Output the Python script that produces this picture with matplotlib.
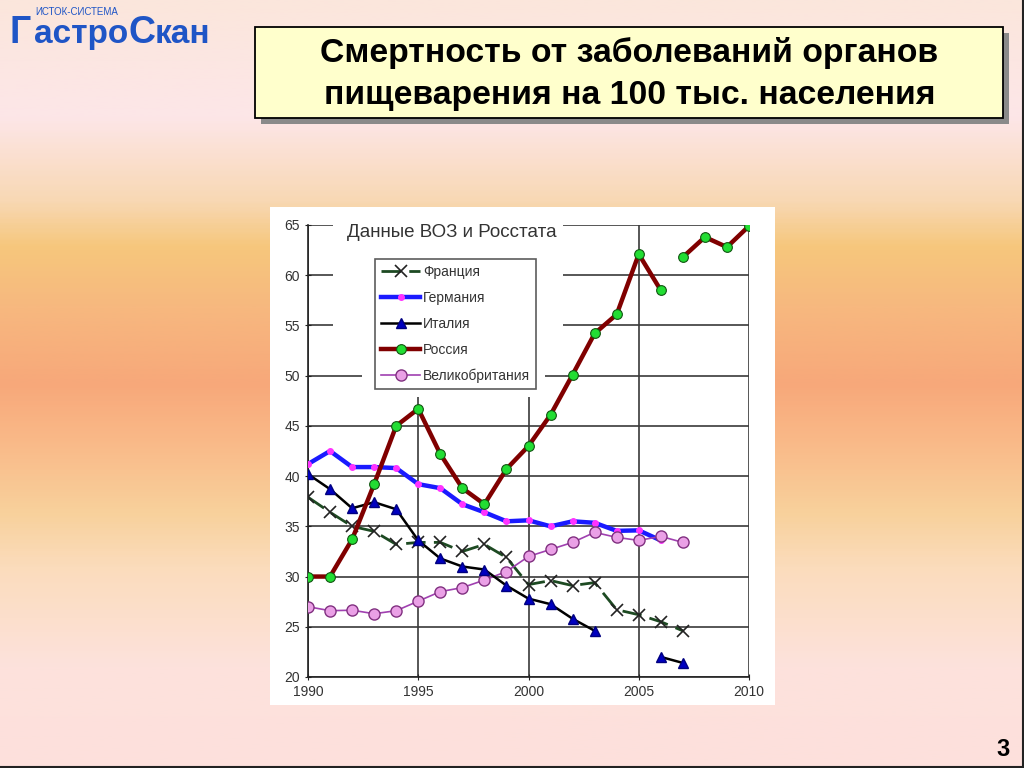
import numpy as np
import matplotlib
matplotlib.use("Agg")
import matplotlib.pyplot as plt
from matplotlib.patches import Rectangle
from matplotlib.colors import LinearSegmentedColormap

plt.rcParams['font.family'] = ['Liberation Sans', 'DejaVu Sans']

# data (deaths per 100k population)
years = list(range(1990, 2011))
france = [37.9, 36.4, 35.0, 34.5, 33.2, 33.4, 33.4, 32.5, 33.2, 31.9,
          29.2, 29.6, 29.1, 29.4, 26.7, 26.2, 25.5, 24.6]
germany = [41.2, 42.5, 40.9, 40.9, 40.8, 39.2, 38.8, 37.2, 36.4, 35.5,
           35.6, 35.0, 35.5, 35.35, 34.55, 34.6, 33.6]
italy = [40.2, 38.7, 36.8, 37.4, 36.7, 33.6, 31.8, 31.0, 30.7, 29.1,
         27.8, 27.25, 25.8, 24.6, np.nan, np.nan, 22.0, 21.4]
russia = [30.0, 30.0, 33.7, 39.2, 45.0, 46.7, 42.2, 38.8, 37.2, 40.7,
          43.0, 46.1, 50.1, 54.2, 56.1, 62.1, 58.5]
russia_late_years = [2007, 2008, 2009, 2010]
russia_late = [61.8, 63.8, 62.8, 64.9]
uk = [27.0, 26.6, 26.65, 26.3, 26.6, 27.55, 28.5, 28.9, 29.65, 30.5,
      32.0, 32.7, 33.4, 34.4, 33.9, 33.6, 34.0, 33.4]

labels = ['Франция', 'Германия', 'Италия', 'Россия', 'Великобритания']
xticks = [1990, 1995, 2000, 2005, 2010]
yticks = [20, 25, 30, 35, 40, 45, 50, 55, 60, 65]

title_lines = ['Смертность от заболеваний органов',
               'пищеварения на 100 тыс. населения']
subtitle = 'Данные ВОЗ и Росстата'

fig = plt.figure(figsize=(10.24, 7.68), dpi=100)

# slide background
bg = fig.add_axes([0, 0, 1, 1])
stops = [(0.0, '#fbe6dc'), (0.15, '#fde6e8'), (0.26, '#f8d8b4'),
         (0.32, '#f6c77c'), (0.40, '#f7b87f'), (0.50, '#f7a87a'),
         (0.57, '#fab887'), (0.67, '#f8d19c'), (0.74, '#fbdcbc'),
         (0.87, '#fde2dc'), (1.0, '#fde0dc')]
cmap = LinearSegmentedColormap.from_list('slide', stops)
grad = np.linspace(0, 1, 400).reshape(-1, 1)
bg.imshow(grad, cmap=cmap, aspect='auto', extent=[0, 1024, 768, 0])
bg.set_xlim(0, 1024)
bg.set_ylim(768, 0)
bg.axis('off')

# title box with shadow
bg.add_patch(Rectangle((261, 33), 748, 91, facecolor='#8a8a8a', edgecolor='none'))
bg.add_patch(Rectangle((255, 27), 748, 91, facecolor='#ffffcc', edgecolor='black', lw=1.3))
bg.text(629.5, 62, title_lines[0], ha='center', va='baseline', fontsize=24.3, fontweight='bold')
bg.text(629.5, 104, title_lines[1], ha='center', va='baseline', fontsize=24.3, fontweight='bold')

# logo
logo_blue = '#1f55c6'
bg.text(10, 43, 'Г', color=logo_blue, fontsize=27, fontweight='bold', va='baseline')
bg.text(34, 43, 'астро', color=logo_blue, fontsize=24, fontweight='bold', va='baseline')
bg.text(128, 43, 'С', color=logo_blue, fontsize=27, fontweight='bold', va='baseline')
bg.text(155, 43, 'кан', color=logo_blue, fontsize=24, fontweight='bold', va='baseline')
bg.text(35, 15, 'ИСТОК-СИСТЕМА', color=logo_blue, fontsize=7, va='baseline')

# page number
bg.text(1003, 750, '3', fontsize=17, fontweight='bold', ha='center', va='center')
bg.plot([0, 1024], [767, 767], color='#222222', lw=1.5)
bg.plot([1023, 1023], [0, 768], color='#222222', lw=1.5)

# white chart panel
bg.add_patch(Rectangle((270, 207), 505, 498, facecolor='white', edgecolor='none'))

ax = fig.add_axes([308 / 1024, 1 - 677 / 768, 441 / 1024, 452 / 768])
ax.set_facecolor('white')
ax.set_xlim(1990, 2010)
ax.set_ylim(20, 65)
ax.set_xticks(xticks)
ax.set_yticks(yticks)
ax.set_axisbelow(True)
ax.grid(True, color='#3a3a3a', lw=1.2)
for s in ['top', 'right']:
    ax.spines[s].set_visible(False)
for s in ['left', 'bottom']:
    ax.spines[s].set_color('#222222')
    ax.spines[s].set_linewidth(1.2)
ax.tick_params(labelsize=10, colors='#222222', labelcolor='#333333',
               direction='inout', length=5)

# white area behind caption and legend (grid hidden there)
ax.add_patch(Rectangle((1991.15, 50.6), 10.4, 15.0, facecolor='white',
                       edgecolor='none', zorder=1, clip_on=False))
ax.add_patch(Rectangle((1992.45, 47.9), 8.3, 3.0, facecolor='white',
                       edgecolor='none', zorder=1))

yrs_fr = years[:len(france)]
yrs_de = years[:len(germany)]
yrs_it = years[:len(italy)]
yrs_ru = years[:len(russia)]
yrs_uk = years[:len(uk)]

ax.plot(yrs_fr, france, color='#1d4a22', lw=2, dashes=(7, 3), marker='x',
        ms=8, mec='#222222', mew=1.2, label=labels[0], zorder=3)
ax.plot(yrs_de, germany, color='#1a1aff', lw=3.2, marker='o', ms=4,
        mfc='#ff33ff', mec='#ff33ff', label=labels[1], zorder=3)
ax.plot(yrs_it, italy, color='black', lw=1.8, marker='^', ms=7,
        mfc='#0000c0', mec='#000080', label=labels[2], zorder=4)
ax.plot(yrs_ru, russia, color='#800000', lw=3.2, marker='o', ms=7,
        mfc='#22dd33', mec='#115511', mew=0.8, label=labels[3], zorder=5)
ax.plot(russia_late_years, russia_late, color='#800000', lw=3.2, marker='o', ms=7,
        mfc='#22dd33', mec='#115511', mew=0.8, zorder=5)
ax.plot(yrs_uk, uk, color='#a040b0', lw=1.2, marker='o', ms=8,
        mfc='#eaa0e6', mec='#803080', mew=1, label=labels[4], zorder=3)

ax.text(1991.75, 64.25, subtitle, fontsize=13.5, color='#333333', va='center', zorder=6)

leg = ax.legend(loc='upper left', bbox_to_anchor=(0.152, 0.925), fontsize=10,
                frameon=True, fancybox=False, edgecolor='#333333',
                handlelength=2.8, handletextpad=0.2, labelspacing=0.85,
                borderpad=0.45, borderaxespad=0)
leg.get_frame().set_linewidth(1.2)
for t in leg.get_texts():
    t.set_color('#333333')

fig.savefig('out.png', dpi=100)
